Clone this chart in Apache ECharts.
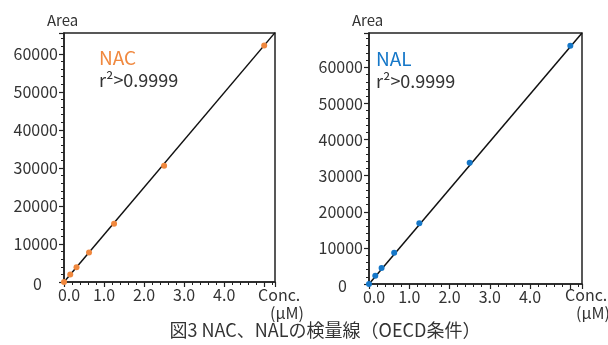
<!DOCTYPE html>
<html>
<head>
<meta charset="utf-8">
<script src="https://cdn.jsdelivr.net/npm/echarts@6/dist/echarts.min.js"></script>
<style>html,body{margin:0;padding:0;background:#fff}#c{width:608px;height:345px}</style>
</head>
<body>
<div id="c"></div>
<script>
// ---- data ----
var concentrations = [0, 0.156, 0.3125, 0.625, 1.25, 2.5, 5.0];
var nacArea = [0, 1950, 3900, 7750, 15300, 30600, 62200];
var nalArea = [0, 2250, 4450, 8650, 16800, 33600, 66000];
// fitted calibration lines (endpoints)
var nacFitX = [0, 5.27];
var nacFitY = [0, 65600];
var nalFitX = [0, 5.29];
var nalFitY = [0, 69500];
var xTickLabels = ['0.0', '1.0', '2.0', '3.0', '4.0'];
var yTickLabels = ['0', '10000', '20000', '30000', '40000', '50000', '60000'];

var FONT = 'Noto Sans CJK JP';
var ORANGE = '#F0883E';
var BLUE = '#1577C8';
var TXT = '#333333';

function pairs(xs, ys) { return xs.map(function (x, i) { return [x, ys[i]]; }); }

function xAxisCfg(grid, max) {
  return {
    type: 'value', gridIndex: grid, min: 0, max: max, interval: 1,
    axisLine: { show: true, lineStyle: { color: '#222', width: 1.5 } },
    axisTick: { show: true, length: 5, lineStyle: { color: '#222', width: 1.2 } },
    minorTick: { show: true, splitNumber: 5, length: 3, lineStyle: { color: '#222', width: 1 } },
    splitLine: { show: false },
    axisLabel: {
      margin: 5, fontFamily: FONT, fontSize: 16, color: TXT, showMaxLabel: false,
      rich: { f: { fontFamily: FONT, fontSize: 16, color: TXT, padding: [0, 0, 0, 10] } },
      formatter: function (v) {
        var idx = Math.round(v);
        if (!(Math.abs(v - idx) < 1e-6 && idx < xTickLabels.length)) return '';
        return idx === 0 ? '{f|' + xTickLabels[0] + '}' : xTickLabels[idx];
      }
    }
  };
}
function yAxisCfg(grid, max) {
  return {
    type: 'value', gridIndex: grid, min: 0, max: max, interval: 10000,
    axisLine: { show: true, lineStyle: { color: '#222', width: 1.5 } },
    axisTick: { show: true, length: 5, lineStyle: { color: '#222', width: 1.2 } },
    minorTick: { show: true, splitNumber: 5, length: 3, lineStyle: { color: '#222', width: 1 } },
    splitLine: { show: false },
    axisLabel: {
      margin: 6, fontFamily: FONT, fontSize: 16, color: TXT, showMaxLabel: false,
      rich: { z: { fontFamily: FONT, fontSize: 16, color: TXT, padding: [4, 16, 0, 0] } },
      formatter: function (v) {
        var idx = Math.round(v / 10000);
        if (!(Math.abs(v - idx * 10000) < 1e-6 && idx < yTickLabels.length)) return '';
        return idx === 0 ? '{z|' + yTickLabels[0] + '}' : yTickLabels[idx];
      }
    }
  };
}
function txt(x, y, s, size, color, align) {
  return { type: 'text', x: x, y: y, style: { text: s, font: size + 'px "' + FONT + '"', fill: color, align: align || 'left', verticalAlign: 'middle' } };
}

var chart = echarts.init(document.getElementById('c'), null, { renderer: 'canvas' });
chart.setOption({
  animation: false,
  backgroundColor: '#fff',
  grid: [
    { left: 64, top: 33, width: 211, height: 249, show: true, borderColor: '#222', borderWidth: 1.5, backgroundColor: 'transparent' },
    { left: 369, top: 33, width: 213, height: 251, show: true, borderColor: '#222', borderWidth: 1.5, backgroundColor: 'transparent' }
  ],
  xAxis: [xAxisCfg(0, 5.27), xAxisCfg(1, 5.29)],
  yAxis: [yAxisCfg(0, 65500), yAxisCfg(1, 69500)],
  series: [
    { type: 'line', xAxisIndex: 0, yAxisIndex: 0, data: pairs(nacFitX, nacFitY), showSymbol: false, symbol: 'none', lineStyle: { color: '#111', width: 1.5 }, z: 2, silent: true },
    { type: 'scatter', xAxisIndex: 0, yAxisIndex: 0, data: pairs(concentrations, nacArea), symbolSize: 6, itemStyle: { color: ORANGE, opacity: 1 }, z: 3, clip: false },
    { type: 'line', xAxisIndex: 1, yAxisIndex: 1, data: pairs(nalFitX, nalFitY), showSymbol: false, symbol: 'none', lineStyle: { color: '#111', width: 1.5 }, z: 2, silent: true },
    { type: 'scatter', xAxisIndex: 1, yAxisIndex: 1, data: pairs(concentrations, nalArea), symbolSize: 6, itemStyle: { color: BLUE, opacity: 1 }, z: 3, clip: false }
  ],
  graphic: [
    txt(47, 20, 'Area', 15, TXT),
    txt(352, 20, 'Area', 15, TXT),
    txt(99, 58, 'NAC', 19, ORANGE),
    txt(99, 80, 'r²>0.9999', 18, TXT),
    txt(376, 59, 'NAL', 19, BLUE),
    txt(376, 81, 'r²>0.9999', 18, TXT),
    txt(258, 295, 'Conc.', 16, TXT),
    txt(270, 313, '(μM)', 16, TXT),
    txt(565, 295, 'Conc.', 16, TXT),
    txt(576, 313, '(μM)', 16, TXT),
    txt(325, 330, '図3 NAC、NALの検量線（OECD条件）', 18, TXT, 'center')
  ]
});
</script>
</body>
</html>
